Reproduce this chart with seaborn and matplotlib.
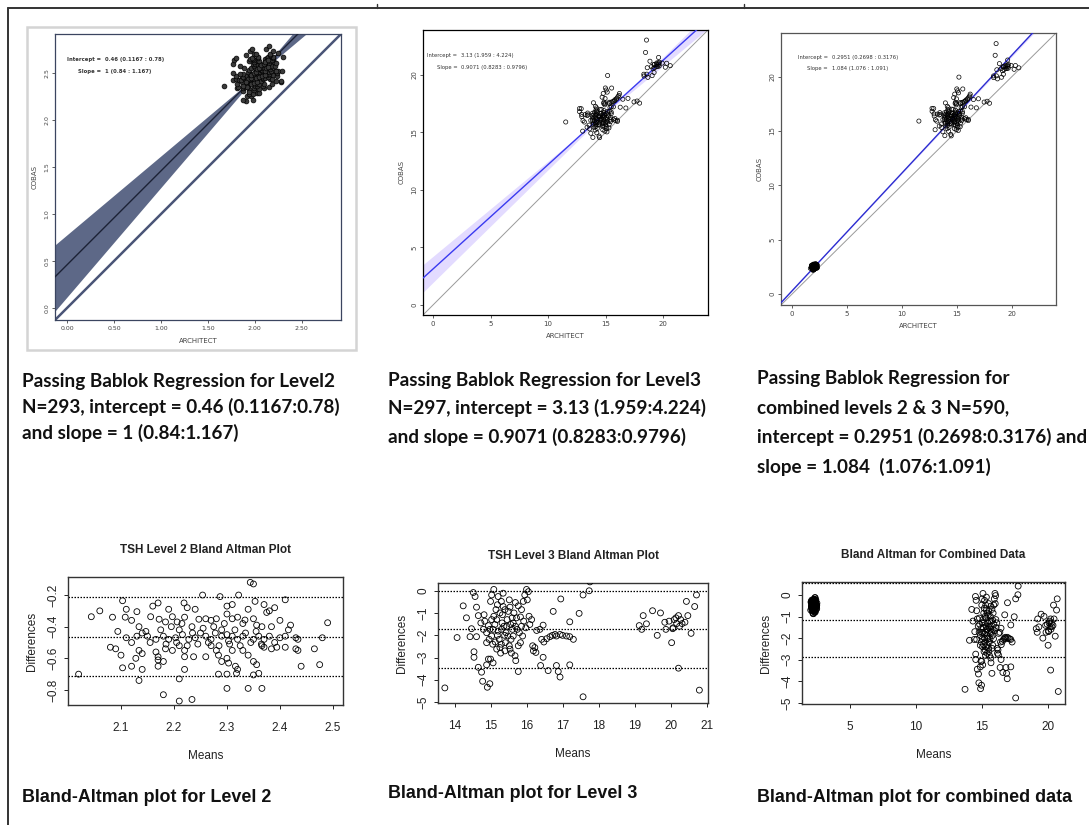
import matplotlib
matplotlib.use('Agg')
import matplotlib.pyplot as plt
import seaborn as sns
import numpy as np
import pandas as pd

# Level 2 Bland-Altman points (mean, difference = ARCHITECT - COBAS)
l2_means = [2.344, 2.35, 2.254, 2.287, 2.322, 2.103, 2.16, 2.17, 2.06, 2.044,
            2.084, 2.219, 2.225, 2.24, 2.30, 2.31, 2.34, 2.353, 2.37, 2.39,
            2.41, 2.375, 2.38, 2.11, 2.108, 2.13, 2.134, 2.12, 2.147, 2.156,
            2.172, 2.184, 2.19, 2.197, 2.206, 2.21, 2.22, 2.234, 2.247, 2.26,
            2.27, 2.28, 2.29, 2.30, 2.31, 2.32, 2.33, 2.334, 2.35, 2.356,
            2.366, 2.384, 2.40, 2.416, 2.42, 2.49, 2.094, 2.11, 2.13, 2.15,
            2.166, 2.18, 2.19, 2.203, 2.216, 2.228, 2.24, 2.25, 2.26, 2.27,
            2.278, 2.29, 2.30, 2.303, 2.31, 2.32, 2.33, 2.35, 2.36, 2.37,
            2.38, 2.40, 2.41, 2.43, 2.434, 2.48, 2.08, 2.09, 2.10, 2.103,
            2.12, 2.128, 2.134, 2.14, 2.134, 2.14, 2.166, 2.17, 2.17, 2.18,
            2.17, 2.184, 2.197, 2.21, 2.22, 2.22, 2.22, 2.21, 2.237, 2.26,
            2.27, 2.28, 2.284, 2.29, 2.30, 2.303, 2.31, 2.316, 2.32, 2.33,
            2.34, 2.35, 2.356, 2.366, 2.37, 2.384, 2.394, 2.41, 2.43, 2.434,
            2.465, 2.44, 2.475, 2.284, 2.30, 2.318, 2.35, 2.36, 2.02, 2.18,
            2.21, 2.234, 2.30, 2.34, 2.366, 2.175, 2.195, 2.215, 2.235, 2.255,
            2.275, 2.295, 2.315, 2.335, 2.355, 2.185, 2.205, 2.225, 2.245, 2.265,
            2.285, 2.305, 2.325, 2.345, 2.365, 2.39, 2.155, 2.14, 2.12]
l2_diffs = [-0.12, -0.13, -0.20, -0.21, -0.20, -0.236, -0.27, -0.25, -0.30, -0.337,
            -0.34, -0.25, -0.28, -0.29, -0.27, -0.26, -0.29, -0.24, -0.26, -0.28,
            -0.23, -0.31, -0.30, -0.29, -0.34, -0.305, -0.40, -0.36, -0.43, -0.337,
            -0.353, -0.37, -0.29, -0.337, -0.37, -0.42, -0.34, -0.40, -0.353, -0.35,
            -0.36, -0.35, -0.42, -0.32, -0.35, -0.34, -0.38, -0.358, -0.35, -0.39,
            -0.40, -0.40, -0.36, -0.42, -0.39, -0.375, -0.43, -0.47, -0.46, -0.46,
            -0.48, -0.46, -0.48, -0.47, -0.45, -0.48, -0.47, -0.44, -0.46, -0.48,
            -0.44, -0.46, -0.45, -0.49, -0.46, -0.48, -0.46, -0.48, -0.46, -0.48,
            -0.46, -0.47, -0.46, -0.47, -0.48, -0.47, -0.53, -0.54, -0.58, -0.66,
            -0.65, -0.60, -0.55, -0.67, -0.74, -0.57, -0.56, -0.61, -0.59, -0.62,
            -0.65, -0.54, -0.55, -0.52, -0.55, -0.59, -0.67, -0.73, -0.59, -0.59,
            -0.52, -0.55, -0.58, -0.62, -0.60, -0.63, -0.55, -0.65, -0.67, -0.55,
            -0.58, -0.62, -0.64, -0.52, -0.53, -0.54, -0.53, -0.53, -0.54, -0.55,
            -0.54, -0.65, -0.64, -0.70, -0.70, -0.695, -0.705, -0.695, -0.70, -0.83,
            -0.87, -0.86, -0.79, -0.79, -0.79, -0.42, -0.40, -0.38, -0.44, -0.41,
            -0.40, -0.38, -0.42, -0.44, -0.43, -0.51, -0.50, -0.52, -0.51, -0.50,
            -0.52, -0.51, -0.52, -0.50, -0.51, -0.50, -0.50, -0.44, -0.50]

# Level 3 Bland-Altman points
l3_means = [13.72, 14.06, 14.23, 14.32, 14.46, 14.42, 14.51, 14.56, 14.60, 14.65,
            14.60, 14.53, 14.53, 14.65, 14.74, 14.77, 14.90, 14.97, 14.88, 14.99,
            15.06, 14.93, 14.99, 15.02, 15.08, 15.34, 14.83, 14.93, 14.97, 15.02,
            15.05, 15.08, 15.14, 15.18, 15.20, 15.23, 15.25, 15.27, 15.31, 15.32,
            15.34, 15.38, 15.40, 15.44, 15.45, 15.48, 15.51, 15.53, 15.56, 15.60,
            15.62, 15.64, 15.67, 15.69, 15.71, 15.76, 15.79, 15.82, 15.85, 15.90,
            15.94, 15.99, 16.04, 16.01, 16.06, 16.08, 16.13, 16.16, 16.18, 15.76,
            14.88, 14.95, 15.11, 15.16, 15.29, 15.36, 15.42, 15.47, 15.55, 15.59,
            15.68, 15.73, 15.18, 15.12, 15.29, 15.51, 15.39, 15.57, 15.16, 15.25,
            15.39, 15.53, 15.68, 15.82, 15.91, 15.97, 15.06, 14.88, 14.79, 14.72,
            14.81, 15.02, 15.20, 15.29, 15.85, 15.62, 15.76, 15.88, 16.27, 16.36,
            16.41, 16.47, 16.55, 16.64, 16.71, 16.78, 16.82, 16.92, 16.99, 17.10,
            17.19, 17.29, 16.59, 16.82, 16.87, 16.92, 17.19, 16.45, 16.38, 16.22,
            16.25, 16.45, 16.73, 16.94, 17.19, 17.45, 17.56, 17.73, 17.75, 17.56,
            19.12, 19.19, 19.23, 19.32, 19.49, 19.62, 19.71, 19.83, 19.86, 19.95,
            20.02, 20.05, 20.09, 20.14, 20.16, 20.21, 20.24, 20.27, 20.31, 20.39,
            20.21, 20.43, 20.47, 20.56, 20.66, 20.71, 20.79, 20.06]
l3_diffs = [-4.37, -2.10, -0.67, -1.21, -1.70, -2.06, -0.07, -0.25, -0.73, -1.11,
            -2.06, -2.74, -2.99, -3.44, -3.66, -4.07, -4.34, -4.18, -3.33, -3.07,
            -3.24, -3.07, -0.47, -0.18, 0.07, -0.10, -1.36, -1.56, -1.73, -2.03,
            -2.40, -1.14, -0.84, -0.62, -1.81, -2.18, -2.55, -2.80, -1.44, -1.07,
            -0.70, -2.00, -2.33, -1.59, -1.29, -0.92, -0.40, -2.62, -2.18, -1.73,
            -1.44, -0.99, -2.92, -3.14, -1.21, -0.67, -1.88, -2.33, -0.84, -0.47,
            -0.18, 0.07, -0.03, -0.40, -1.14, -1.51, -1.29, -2.47, -2.70, -3.63,
            -1.88, -2.18, -1.51, -1.29, -1.73, -1.59, -1.88, -2.03, -1.51, -1.21,
            -1.59, -1.73, -2.00, -2.30, -2.40, -2.47, -2.70, -2.80, -2.62, -0.99,
            -0.84, -0.73, -0.52, -1.17, -1.36, -1.66, -1.73, -2.33, -1.73, -1.44,
            -1.07, -1.29, -0.25, -0.47, -1.59, -2.03, -2.47, -2.03, -1.78, -1.73,
            -2.18, -2.30, -2.15, -2.06, -2.00, -1.96, -2.03, -1.96, -2.00, -2.03,
            -2.06, -2.18, -3.59, -3.36, -3.63, -3.88, -3.33, -2.99, -3.36, -2.55,
            -2.77, -1.54, -0.92, -0.36, -1.39, -1.01, -0.18, 0.01, 0.41, -4.77,
            -1.56, -1.73, -1.11, -1.48, -0.89, -2.00, -0.99, -1.41, -1.73, -1.36,
            -2.33, -1.70, -1.29, -1.21, -1.47, -1.11, -1.59, -1.29, -1.47, -1.41,
            -3.48, -0.47, -1.11, -1.91, -0.70, -0.18, -4.47, -1.66]

# Passing-Bablok results (intercept, slope, CI) from the captions
pb_level2 = dict(a=0.46, a_lo=0.1167, a_hi=0.78, b=1.0, b_lo=0.84, b_hi=1.167)
pb_level3 = dict(a=3.13, a_lo=1.959, a_hi=4.224, b=0.9071, b_lo=0.8283, b_hi=0.9796)
pb_comb = dict(a=0.2951, a_lo=0.2698, a_hi=0.3176, b=1.084, b_lo=1.076, b_hi=1.091)

# Bland-Altman reference lines (mean difference and limits of agreement)
ba_lines_l2 = [-0.215, -0.465, -0.71]
ba_lines_l3 = [-0.01, -1.73, -3.45]
ba_lines_comb = [0.56, -1.15, -2.88]

captions_top = [
    ["Passing Bablok Regression for Level2",
     "N=293, intercept = 0.46 (0.1167:0.78)",
     "and slope = 1 (0.84:1.167)"],
    ["Passing Bablok Regression for Level3",
     "N=297, intercept = 3.13 (1.959:4.224)",
     "and slope = 0.9071 (0.8283:0.9796)"],
    ["Passing Bablok Regression for",
     "combined levels 2 & 3 N=590,",
     "intercept = 0.2951 (0.2698:0.3176) and",
     "slope = 1.084  (1.076:1.091)"],
]
captions_bottom = ["Bland-Altman plot for Level 2",
                   "Bland-Altman plot for Level 3",
                   "Bland-Altman plot for combined data"]

l2 = pd.DataFrame({"mean": l2_means, "diff": l2_diffs})
l3 = pd.DataFrame({"mean": l3_means, "diff": l3_diffs})
for df in (l2, l3):
    df["architect"] = df["mean"] + df["diff"] / 2
    df["cobas"] = df["mean"] - df["diff"] / 2
comb = pd.concat([l2, l3], ignore_index=True)

sns.set_theme(style="white")
plt.rcParams['font.family'] = ['DejaVu Sans']
NARROW = ['Liberation Sans', 'DejaVu Sans']
CAPF = ['Lato', 'DejaVu Sans']

W, H = 1089, 825
fig = plt.figure(figsize=(W / 100, H / 100), dpi=100)
fig.patch.set_facecolor('white')


def add_ax(l, t, r, b):
    return fig.add_axes([l / W, 1 - b / H, (r - l) / W, (b - t) / H])


def style_r(ax, spine_col='black', size=5):
    for s in ax.spines.values():
        s.set_color(spine_col)
        s.set_linewidth(0.9)
    ax.tick_params(direction='out', length=2.5, width=0.6, colors='#444444',
                   labelsize=size, pad=1.5, bottom=True, left=True)
    plt.setp(ax.get_yticklabels(), rotation=90, va='center')


def pb_panel(ax, data, pb, lims, band_col, line_col, ident_col, ident_lw,
             pt_kw, leg_xy, leg_lines, leg_bold=False):
    xs = np.linspace(lims[0], lims[1], 200)
    lo = np.minimum(pb['a_lo'] + pb['b_hi'] * xs, pb['a_hi'] + pb['b_lo'] * xs)
    hi = np.maximum(pb['a_lo'] + pb['b_hi'] * xs, pb['a_hi'] + pb['b_lo'] * xs)
    if band_col:
        ax.fill_between(xs, lo, hi, color=band_col, lw=0, zorder=1)
    ax.plot(lims, lims, color=ident_col, lw=ident_lw, zorder=2)
    sns.lineplot(x=xs, y=pb['a'] + pb['b'] * xs, ax=ax, color=line_col, lw=1.0, zorder=3)
    sns.scatterplot(data=data, x="architect", y="cobas", ax=ax, zorder=4, **pt_kw)
    ax.set_xlim(lims)
    ax.set_ylim(lims)
    ax.set_xlabel("ARCHITECT", fontsize=5, color='#444444', labelpad=5)
    ax.set_ylabel("COBAS", fontsize=5, color='#444444', labelpad=5)
    for i, (lab, val) in enumerate(leg_lines):
        y = leg_xy[1] - i * 0.04
        ax.text(leg_xy[0], y, lab, transform=ax.transAxes, ha='right', va='center',
                fontsize=3.8, color='#333333', fontweight='bold' if leg_bold else 'normal')
        ax.text(leg_xy[0] + 0.015, y, val, transform=ax.transAxes, ha='left', va='center',
                fontsize=3.8, color='#333333', fontweight='bold' if leg_bold else 'normal')


# ---- Passing-Bablok level 2
ax1 = add_ax(55, 34, 341, 320)
pb_panel(ax1, l2, pb_level2, (-0.13, 2.92), '#5d6887', '#1c2236', '#4a5577', 1.8,
         dict(marker='o', s=12, color='#3a3a3a', edgecolor='black', linewidth=0.5),
         (0.16, 0.91), [("Intercept =", "0.46 (0.1167 : 0.78)"), ("Slope =", "1 (0.84 : 1.167)")],
         leg_bold=True)
ax1.set_xticks([0, 0.5, 1.0, 1.5, 2.0, 2.5], ["0.00", "0.50", "1.00", "1.50", "2.00", "2.50"])
ax1.set_yticks([0, 0.5, 1.0, 1.5, 2.0, 2.5], ["0.0", "0.5", "1.0", "1.5", "2.0", "2.5"])
style_r(ax1, '#3b4560', 4.5)
fig.patches.append(plt.Rectangle((27 / W, 1 - 350 / H), 329 / W, 323 / H, transform=fig.transFigure,
                                 fill=False, ec='#d4d4d4', lw=1.8))

# ---- Passing-Bablok level 3
ax2 = add_ax(423, 30, 708, 315)
pb_panel(ax2, l3, pb_level3, (-0.87, 23.9), '#e3dbff', '#3a3af0', '#9a9a9a', 0.7,
         dict(marker='o', s=9, facecolor='none', edgecolor='black', linewidth=0.5),
         (0.12, 0.91), [("Intercept =", "3.13 (1.959 : 4.224)"), ("Slope =", "0.9071 (0.8283 : 0.9796)")])
ax2.set_xticks([0, 5, 10, 15, 20])
ax2.set_yticks([0, 5, 10, 15, 20])
style_r(ax2, 'black', 5)

# ---- Passing-Bablok combined
ax3 = add_ax(781, 33, 1056, 305)
pb_panel(ax3, comb, pb_comb, (-1.0, 24.0), '#e3dbff', '#2b2bd0', '#9a9a9a', 0.7,
         dict(marker='o', s=9, facecolor='none', edgecolor='black', linewidth=0.5),
         (0.17, 0.91), [("Intercept =", "0.2951 (0.2698 : 0.3176)"), ("Slope =", "1.084 (1.076 : 1.091)")])
ax3.set_xticks([0, 5, 10, 15, 20])
ax3.set_yticks([0, 5, 10, 15, 20])
style_r(ax3, '#555555', 5)


# ---- Bland-Altman panels
def ba_panel(ax, data, lines, title, xlim, ylim, xticks, yticks):
    sns.scatterplot(data=data, x="mean", y="diff", ax=ax, marker='o', s=18,
                    facecolor='none', edgecolor='black', linewidth=0.6, zorder=3)
    for v in lines:
        ax.axhline(v, color='black', ls=(0, (1.2, 1.2)), lw=0.9, zorder=2)
    ax.set_xlim(xlim)
    ax.set_ylim(ylim)
    ax.set_xticks(xticks)
    ax.set_yticks(yticks)
    for s in ax.spines.values():
        s.set_color('#333333')
        s.set_linewidth(1.0)
    ax.tick_params(axis='x', direction='out', length=3, width=0.7, colors='#222222',
                   labelsize=8.5, pad=9, bottom=True)
    ax.tick_params(axis='y', direction='out', length=3, width=0.7, colors='#222222',
                   labelsize=8.5, pad=3, left=True)
    for lab in ax.get_xticklabels() + ax.get_yticklabels():
        lab.set_family(NARROW)
    plt.setp(ax.get_yticklabels(), rotation=90, va='center')
    ax.set_xlabel("Means", fontsize=8.5, family=NARROW, color='#222222', labelpad=12)
    ax.set_ylabel("Differences", fontsize=8.5, family=NARROW, color='#222222', labelpad=7)
    ax.set_title(title, fontsize=8.5, family=NARROW, fontweight='bold', color='#222222', pad=17)


bx1 = add_ax(68, 577, 343, 705)
ba_panel(bx1, l2, ba_lines_l2, "TSH Level 2 Bland Altman Plot", (2.0, 2.519), (-0.895, -0.086),
         [2.1, 2.2, 2.3, 2.4, 2.5], [-0.8, -0.6, -0.4, -0.2])
bx2 = add_ax(438, 583, 708, 703)
ba_panel(bx2, l3, ba_lines_l3, "TSH Level 3 Bland Altman Plot", (13.53, 21.03), (-5.05, 0.36),
         list(range(14, 22)), [-5, -4, -3, -2, -1, 0])
bx3 = add_ax(802, 582, 1065, 704)
ba_panel(bx3, comb, ba_lines_comb, "Bland Altman for Combined Data", (1.36, 21.3), (-5.05, 0.6),
         [5, 10, 15, 20], [-5, -4, -3, -2, -1, 0])

# ---- captions
cap_x = [22, 388, 757]
cap_y = [[381, 407, 433], [380, 408, 437], [378, 408, 437, 467]]
for x, ys, lines in zip(cap_x, cap_y, captions_top):
    for y, line in zip(ys, lines):
        fig.text(x / W, 1 - y / H, line, ha='left', va='center', fontsize=13.6,
                 family=CAPF, fontweight='bold', color='#111111')
for x, y, line in zip(cap_x, [797, 793, 797], captions_bottom):
    fig.text(x / W, 1 - y / H, line, ha='left', va='center', fontsize=12.9,
             family=NARROW, fontweight='bold', color='#111111')

# ---- table frame
fig.add_artist(plt.Line2D([8 / W, 1], [1 - 8 / H, 1 - 8 / H], color='#333333', lw=1.4))
fig.add_artist(plt.Line2D([8 / W, 8 / W], [0, 1 - 8 / H], color='#333333', lw=1.4))
for tx in (377, 744):
    fig.add_artist(plt.Line2D([tx / W, tx / W], [1 - 8 / H, 1 - 4 / H], color='#333333', lw=1))

fig.savefig("out.png", dpi=100)
plt.close(fig)
